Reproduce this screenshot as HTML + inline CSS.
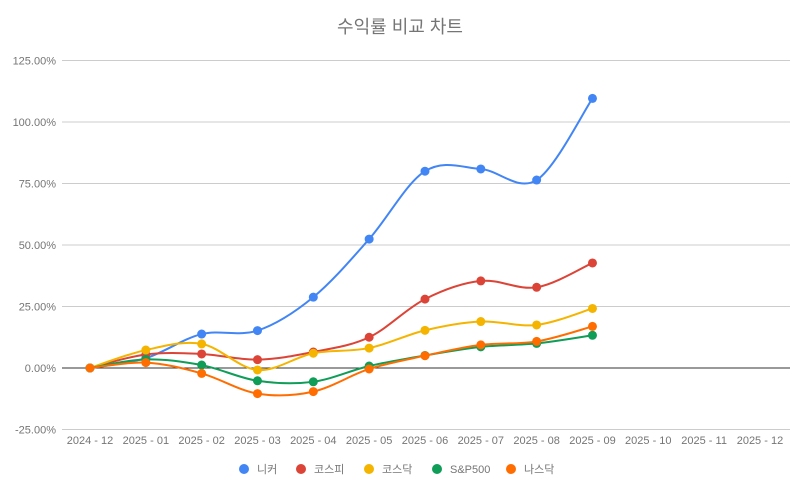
<!DOCTYPE html>
<html><head><meta charset="utf-8"><style>
body{margin:0;background:#fff;}
svg text{font-family:"Liberation Sans","Noto Sans CJK KR",sans-serif;}
</style></head><body>
<svg id="chart" width="800" height="487" xmlns="http://www.w3.org/2000/svg">
<text x="400" y="33" text-anchor="middle" font-size="18" fill="#757575">수익률 비교 차트</text>
<g id="grid"></g><g id="series"></g><g id="legend"></g>
</svg>
<script>
const categories=["2024 - 12","2025 - 01","2025 - 02","2025 - 03","2025 - 04","2025 - 05","2025 - 06","2025 - 07","2025 - 08","2025 - 09","2025 - 10","2025 - 11","2025 - 12"];
const yTicks=[-25,0,25,50,75,100,125];
const seriesNames=["니커","코스피","코스닥","S&P500","나스닥"];
const seriesColors=["#4285f4","#db4437","#f4b400","#0f9d58","#ff6d01"];
const niker=[0,4,13.8,15.2,28.8,52.4,80,80.9,76.4,109.6];
const kospi=[0,5.5,5.7,3.4,6.5,12.5,28,35.4,32.8,42.7];
const kosdaq=[0,7.3,9.8,-0.8,6,8.1,15.3,18.9,17.5,24.2];
const sp500=[0,3.5,1.2,-5.2,-5.6,0.8,5.1,8.6,10,13.3];
const nasdaq=[0,2.2,-2.2,-10.4,-9.6,-0.4,5,9.4,10.8,16.9];
const allSeries=[niker,kospi,kosdaq,sp500,nasdaq];
const NS="http://www.w3.org/2000/svg";
const L=62,R=790,x0=90,dx=55.83;
const X=i=>x0+i*dx;
const Y=v=>368-v*(61.5/25);
function mk(t,a,p){const e=document.createElementNS(NS,t);for(const k in a)e.setAttribute(k,a[k]);p.appendChild(e);return e;}
const grid=document.getElementById('grid');
yTicks.forEach(v=>{
  const ln=mk('line',{x1:L,x2:R,y1:Y(v),y2:Y(v),stroke:v===0?'#333':'#ccc','stroke-width':1},grid);
  
  
  const t=mk('text',{x:L-6,y:Y(v)+4,'text-anchor':'end','font-size':11,fill:'#757575'},grid);
  t.textContent=v.toFixed(2)+'%';
  
  
});
categories.forEach((c,i)=>{
  const t=mk('text',{x:X(i),y:444,'text-anchor':'middle','font-size':11,fill:'#757575'},grid);
  t.textContent=c;
  
  
});
const sg=document.getElementById('series');
allSeries.forEach((d,si)=>{
  const p=d.map((v,i)=>[X(i),Y(v)]);
  let path='M'+p[0][0]+','+p[0][1];
  for(let i=0;i<p.length-1;i++){
    const a=p[i-1]||p[i],b=p[i],c=p[i+1],e=p[i+2]||c,k=1/6;
    path+=` C${b[0]+(c[0]-a[0])*k},${b[1]+(c[1]-a[1])*k} ${c[0]-(e[0]-b[0])*k},${c[1]-(e[1]-b[1])*k} ${c[0]},${c[1]}`;
  }
  const pe=mk('path',{d:path,fill:'none',stroke:seriesColors[si],'stroke-width':2},sg);
  
  
  p.forEach(q=>{
    const c=mk('circle',{cx:q[0],cy:q[1],r:4.5,fill:seriesColors[si]},sg);
    
    
  });
});
const lg=document.getElementById('legend');
const lx=[244,301,369,437,511];
seriesNames.forEach((n,i)=>{
  const c=mk('circle',{cx:lx[i],cy:469,r:5,fill:seriesColors[i]},lg);
  
  
  const t=mk('text',{x:lx[i]+13,y:473,'font-size':11,fill:'#757575'},lg);
  t.textContent=n;
  
  
});
</script>
</body></html>
